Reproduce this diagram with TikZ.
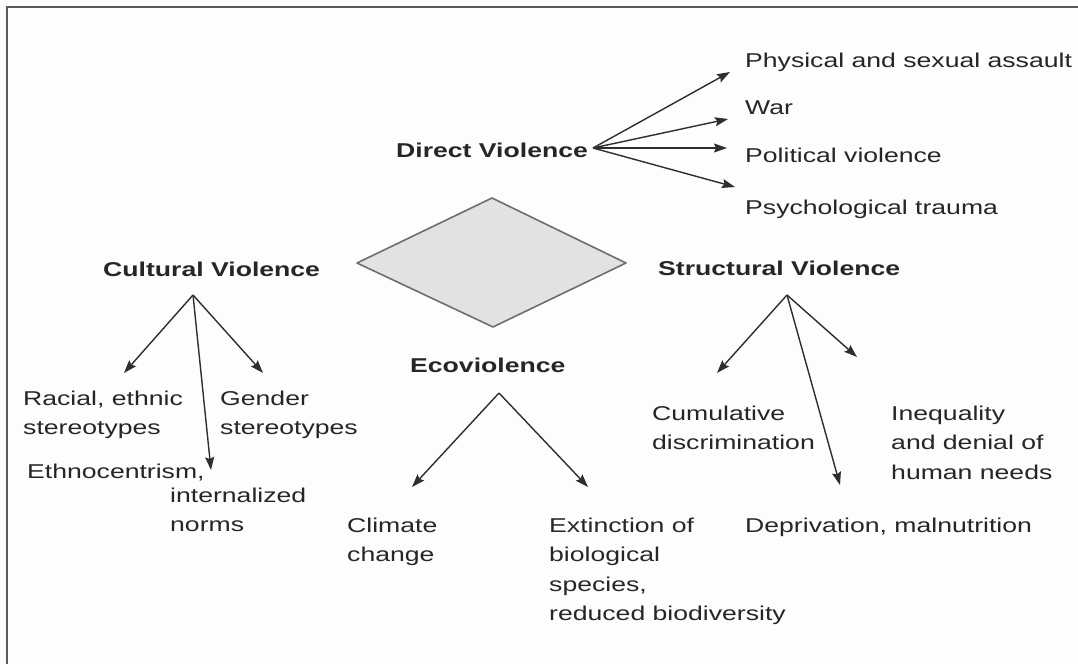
\documentclass[tikz,border=0pt]{standalone}
\usepackage{fontspec}
\setmainfont{Liberation Sans}[FakeStretch=1.33]
\usetikzlibrary{arrows.meta}
\definecolor{txt}{HTML}{262626}
\definecolor{arrc}{HTML}{2E2E2E}
\definecolor{bg}{HTML}{FDFDFB}
\definecolor{dfill}{HTML}{E2E2E2}
\definecolor{dline}{HTML}{6E6E6E}
\definecolor{framec}{HTML}{5A5A5A}
\begin{document}
\begin{tikzpicture}[x=1pt,y=-1pt,
  lbl/.style={anchor=base west, inner sep=0pt, align=left, font=\fontsize{20}{29.5}\selectfont, text=txt},
  head/.style={lbl, font=\fontsize{20}{29.5}\selectfont\bfseries},
  arr/.style={draw=arrc, line width=1.4pt, -{Stealth[length=13pt,width=9pt,inset=2pt]}},
  diam/.style={draw=dline, fill=dfill, line width=1.6pt, line join=round},
  frameline/.style={draw=framec, line width=2pt}
]
\useasboundingbox (0,0) rectangle (1078,664);
\fill[bg] (0,0) rectangle (1078,664);
\draw[frameline] (7,664) -- (7,7) -- (1078,7);

% central diamond
\draw[diam] (357,263) -- (492,198) -- (626,263) -- (493,327) -- cycle;

% Direct violence (multi-line nodes are placed by the baseline of their last line)
\node[head] (dv) at (396,157) {Direct Violence};
\node[lbl] (dv1) at (745,67) {Physical and sexual assault};
\node[lbl] (dv2) at (745,114) {War};
\node[lbl] (dv3) at (745,162) {Political violence};
\node[lbl] (dv4) at (745,214) {Psychological trauma};
\coordinate (dvo) at (593,148);
\coordinate (dvt1) at (730,72);
\coordinate (dvt2) at (728,119);
\coordinate (dvt3) at (727,148);
\coordinate (dvt4) at (735,187);
\draw[arr] (dvo) -- (dvt1);
\draw[arr] (dvo) -- (dvt2);
\draw[arr] (dvo) -- (dvt3);
\draw[arr] (dvo) -- (dvt4);

% Cultural violence
\node[head] (cv) at (103,276) {Cultural Violence};
\node[lbl] (cv1) at (23,434.5) {Racial, ethnic\\stereotypes};
\node[lbl] (cv2) at (220,434.5) {Gender\\stereotypes};
\node[lbl] (cv3a) at (27,478) {Ethnocentrism,};
\node[lbl] (cv3b) at (170,531.5) {internalized\\norms};
\coordinate (cvo) at (193,295);
\coordinate (cvt1) at (124,373);
\coordinate (cvt2) at (263,373);
\coordinate (cvt3) at (211,470);
\draw[arr] (cvo) -- (cvt1);
\draw[arr] (cvo) -- (cvt2);
\draw[arr] (cvo) -- (cvt3);

% Structural violence
\node[head] (sv) at (658,275) {Structural Violence};
\node[lbl] (sv1) at (652,449.5) {Cumulative\\discrimination};
\node[lbl] (sv2) at (891,479) {Inequality\\and denial of\\human needs};
\node[lbl] (sv3) at (745,532) {Deprivation, malnutrition};
\coordinate (svo) at (787,295);
\coordinate (svt1) at (717,373);
\coordinate (svt2) at (857,357);
\coordinate (svt3) at (840,485);
\draw[arr] (svo) -- (svt1);
\draw[arr] (svo) -- (svt2);
\draw[arr] (svo) -- (svt3);

% Ecoviolence
\node[head] (ev) at (410,372) {Ecoviolence};
\node[lbl] (ev1) at (347,561.5) {Climate\\change};
\node[lbl] (ev2) at (549,620.5) {Extinction of\\biological\\species,\\reduced biodiversity};
\coordinate (evo) at (499,393);
\coordinate (evt1) at (412,487);
\coordinate (evt2) at (588,487);
\draw[arr] (evo) -- (evt1);
\draw[arr] (evo) -- (evt2);
\end{tikzpicture}
\end{document}
